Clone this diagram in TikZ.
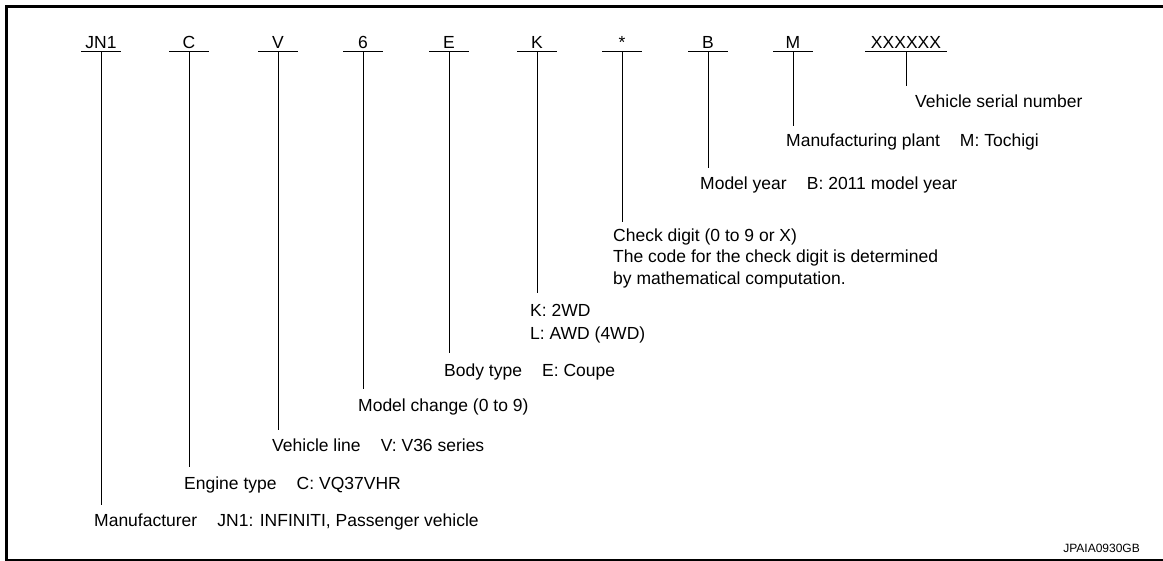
\documentclass[tikz,border=0pt]{standalone}
\usepackage{fontspec}
\setmainfont{Liberation Sans}
\begin{document}
\begin{tikzpicture}[x=1pt,y=-1pt,
  codetext/.style={anchor=base,inner sep=0pt,font=\fontsize{17.5}{21.7}\selectfont},
  desctext/.style={anchor=base west,inner sep=0pt,font=\fontsize{17.5}{21.7}\selectfont},
  codebar/.style={line width=1.1pt},
  leader/.style={line width=1pt},
  frameline/.style={line width=3.3pt}]
\useasboundingbox (0,0) rectangle (1163,561);
% frame
\draw[frameline] (1163,6.7) -- (6.7,6.7) -- (6.7,561);
\draw[line width=1.5pt] (5,560.2) -- (1163,560.2);
% codes, bars and leaders
\foreach \n/\x/\t/\w/\e in {jn/101/JN1/20/505, c/189/C/20/467, v/278/V/20/430,
    six/363/6/20/389, e/449/E/20/353, k/537/K/20/293, chk/622/*/20/222,
    b/708/B/20/168, m/793/M/20/126, ser/906/XXXXXX/41/86}{
  \node[codetext] (code-\n) at (\x,48.5) {\t};
  \coordinate (bar-\n) at (\x,51.5);
  \draw[codebar] ([xshift=-\w pt]bar-\n) -- ([xshift=\w pt]bar-\n);
  \coordinate (end-\n) at (\x,\e);
  \draw[leader] (bar-\n) -- (end-\n);
}
% descriptions
\node[desctext] (d-ser) at (915,107.3) {Vehicle serial number};
\node[desctext] (d-m) at (786,146.3) {Manufacturing plant\hspace{1.15em}M: Tochigi};
\node[desctext] (d-b) at (700,189.3) {Model year\hspace{1.15em}B: 2011 model year};
\node[desctext] (d-chk1) at (613,241.3) {Check digit (0 to 9 or X)};
\node[desctext] (d-chk2) at (613,263) {The code for the check digit is determined};
\node[desctext] (d-chk3) at (613,284.6) {by mathematical computation.};
\node[desctext] (d-k1) at (530,316.3) {K: 2WD};
\node[desctext] (d-k2) at (530,339.3) {L: AWD (4WD)};
\node[desctext] (d-e) at (444,376.3) {Body type\hspace{1.15em}E: Coupe};
\node[desctext] (d-six) at (358,411.3) {Model change (0 to 9)};
\node[desctext] (d-v) at (272,451.3) {Vehicle line\hspace{1.15em}V: V36 series};
\node[desctext] (d-c) at (184,489.3) {Engine type\hspace{1.15em}C: VQ37VHR};
\node[desctext] (d-jn) at (94,526.3) {Manufacturer\hspace{1.15em}JN1: INFINITI, Passenger vehicle};
\node[anchor=base east,inner sep=0pt,font=\fontsize{12}{14}\selectfont] (fig-id) at (1140,552) {JPAIA0930GB};
\end{tikzpicture}
\end{document}
